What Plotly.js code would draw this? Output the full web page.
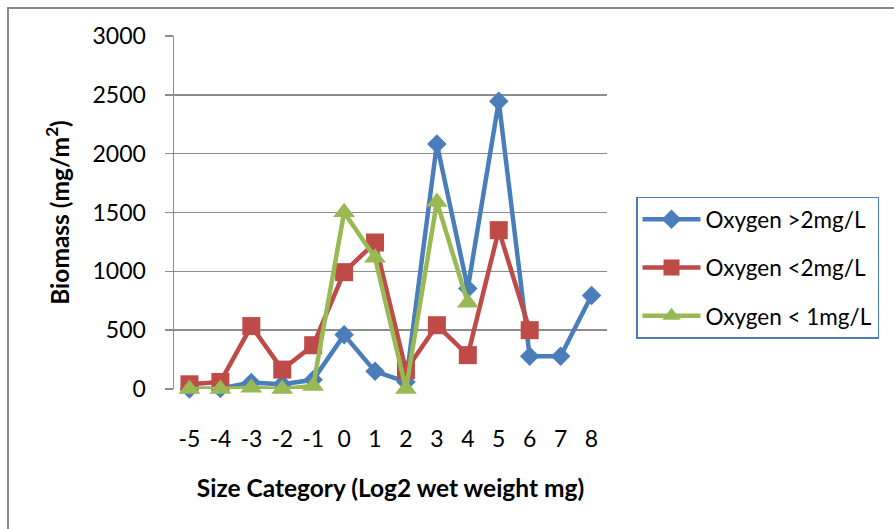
<!DOCTYPE html>
<html>
<head>
<meta charset="utf-8">
<script src="https://cdn.plot.ly/plotly-3.0.1.min.js"></script>
<style>
  html, body { margin: 0; padding: 0; background: #ffffff; }
  #chart { width: 894px; height: 529px; }
</style>
</head>
<body>
<div id="chart"></div>
<script>
// Size classes (log2 of wet weight, mg)
const sizeCategories = ["-5", "-4", "-3", "-2", "-1", "0", "1", "2", "3", "4", "5", "6", "7", "8"];

// Biomass (mg/m²) per size class under each oxygen regime
const oxygenAbove2 = [0, 5, 55, 40, 78, 460, 150, 60, 2082, 855, 2445, 278, 278, 795];
const oxygenBelow2 = [40, 60, 535, 165, 372, 993, 1245, 160, 542, 288, 1350, 500, null, null];
const oxygenBelow1 = [0, 0, 10, 0, 25, 1502, 1115, 0, 1590, 732, null, null, null, null];

const seriesNames = ["Oxygen >2mg/L", "Oxygen <2mg/L", "Oxygen < 1mg/L"];
const yTicks = [0, 500, 1000, 1500, 2000, 2500, 3000];

const FONT = "Lato, 'Open Sans', sans-serif";
const GRID = "#8c8c8c";

function series(name, y, color, symbol, size, group) {
  return {
    type: "scatter",
    mode: "lines+markers",
    name: name,
    x: sizeCategories,
    y: y,
    legendgroup: group,
    cliponaxis: false,
    connectgaps: false,
    line: { color: color, width: 4.5 },
    marker: { color: color, symbol: symbol, size: size, line: { width: 0 } }
  };
}

const traces = [
  series(seriesNames[0], oxygenAbove2, "#4a7ebb", "diamond", 15, "g1"),
  series(seriesNames[1], oxygenBelow2, "#be4b48", "square", 18, "g2"),
  series(seriesNames[2], oxygenBelow1, "#98b954", "triangle-up", 19, "g3")
];

const layout = {
  width: 894,
  height: 529,
  margin: { l: 174, r: 287, t: 36, b: 140, pad: 0 },
  paper_bgcolor: "#ffffff",
  plot_bgcolor: "#ffffff",
  font: { family: FONT, size: 23, color: "#000000" },
  showlegend: true,
  legend: {
    x: 1.067,
    y: 0.545,
    xanchor: "left",
    yanchor: "top",
    bordercolor: "#4a7ebb",
    borderwidth: 1.5,
    bgcolor: "#ffffff",
    traceorder: "grouped",
    tracegroupgap: 16,
    itemwidth: 58,
    entrywidth: 190,
    font: { family: FONT, size: 22.5, color: "#000000" }
  },
  xaxis: {
    type: "category",
    range: [-0.5, 13.5],
    showgrid: false,
    zeroline: false,
    showline: false,
    ticks: "",
    ticklabelstandoff: 34,
    tickfont: { family: FONT, size: 23 },
    title: {
      text: "<b>Size Category (Log2 wet weight mg)</b>",
      font: { family: FONT, size: 24.5 },
      standoff: 28
    },
    automargin: false
  },
  yaxis: {
    range: [0, 3000],
    tickvals: yTicks,
    ticktext: yTicks.map(String),
    showgrid: true,
    gridcolor: GRID,
    gridwidth: 1.5,
    zeroline: false,
    showline: true,
    linecolor: GRID,
    linewidth: 1.5,
    ticks: "outside",
    ticklen: 8,
    tickcolor: GRID,
    tickwidth: 1.5,
    ticklabelstandoff: 14,
    tickfont: { family: FONT, size: 23 },
    title: {
      text: "<b>Biomass (mg/m<sup>2</sup>)</b>",
      font: { family: FONT, size: 24.5 },
      standoff: 16
    },
    automargin: false
  },
  shapes: [
    {
      type: "rect",
      xref: "paper", yref: "paper",
      x0: (8 - 174) / 433, x1: 2,
      y0: (389 - 8) / 353, y1: -1,
      line: { color: "#8a8a8a", width: 2 },
      fillcolor: "rgba(0,0,0,0)",
      layer: "below"
    }
  ]
};

Plotly.newPlot("chart", traces, layout, { displayModeBar: false, staticPlot: true });
</script>
</body>
</html>
